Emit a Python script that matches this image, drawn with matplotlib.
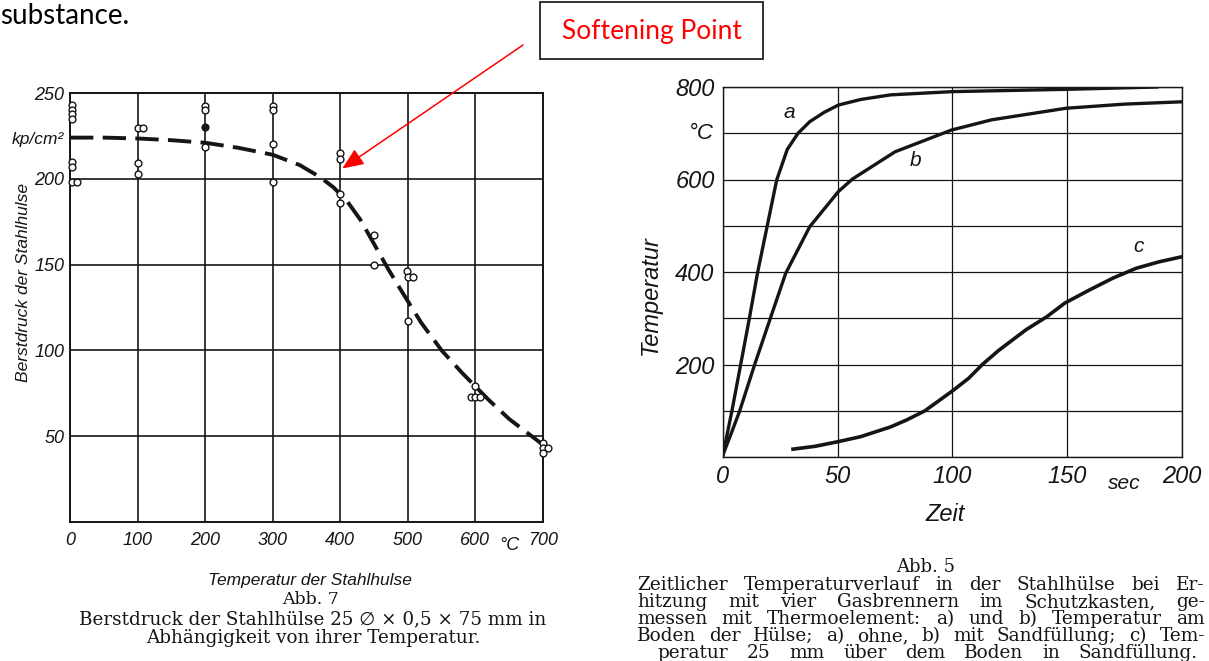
import matplotlib
matplotlib.use("Agg")
import matplotlib.pyplot as plt
from matplotlib.patches import Rectangle
from matplotlib.transforms import blended_transform_factory as btf

# ---------------- data: left chart (Abb. 7) ----------------
burst_T = [3, 3, 3, 3, 3, 3, 3, 10,
           100, 108, 100, 100,
           200, 200, 200, 300, 300, 300, 300,
           400, 400, 400, 400,
           450, 450,
           498, 500, 508, 500,
           600, 593, 600, 607,
           700, 700, 708, 700]
burst_p = [243, 240, 237.5, 235, 210, 207, 198, 198,
           229.5, 229.5, 209, 203,
           242.5, 240, 218.5, 242.5, 240, 220.5, 198,
           215, 211.5, 191, 186,
           167, 150,
           146, 143, 143, 117,
           79, 73, 73, 73,
           46, 43, 43, 40]
filled_T = [200]
filled_p = [230]

curve_T = [0, 50, 100, 150, 200, 250, 300, 340, 370, 390, 410, 430, 450,
           470, 490, 520, 550, 580, 600, 620, 650, 680, 700]
curve_p = [224, 224, 223.5, 222.5, 221, 218, 214, 208, 201, 195, 187, 176, 162,
           148, 135, 116, 100, 87, 79, 71, 60, 51, 45]

left_xticks = [0, 100, 200, 300, 400, 500, 600, 700]
left_xlabels = ["0", "100", "200", "300", "400", "500", "600", "700"]
left_yticks = [50, 100, 150, 200, 250]
left_ylabels = ["50", "100", "150", "200", "250"]

# ---------------- data: right chart (Abb. 5) ----------------
a_t = [0, 3.9, 7.7, 11.5, 15, 19.2, 23.4, 28, 32.7, 37.8, 44, 50.3, 60, 73, 100, 150, 189]
a_T = [5, 100, 200, 300, 397, 498, 599, 665, 700, 725, 745, 761, 773, 783, 790, 795, 800]
b_t = [0, 3.5, 7.3, 13.8, 20.5, 27.3, 37.8, 50.3, 56.4, 75, 99.6, 117, 149.4, 175, 200]
b_T = [5, 50, 100, 200, 298, 397, 498, 574, 601, 660, 707, 729, 754, 763, 768]
c_t = [30.5, 40, 50, 60, 73, 80, 88, 100, 107, 113, 120, 132, 141, 149, 160, 170, 180, 190, 200]
c_T = [17, 23, 33, 44, 65, 80, 100, 143, 170, 200, 230, 275, 303, 333, 362, 387, 408, 422, 433]

right_xticks = [0, 50, 100, 150, 200]
right_xlabels = ["0", "50", "100", "150", "200"]
right_yticks = [0, 200, 400, 600, 800]
right_ylabels = ["", "200", "400", "600", "800"]

W, H = 1209, 661
fig = plt.figure(figsize=(W / 100, H / 100), dpi=100)
fig.patch.set_facecolor("white")

def fx(px):
    return px / W

def fy(py):
    return 1 - py / H

INK = "#151515"
SANS = ["Liberation Sans", "DejaVu Sans"]
SERIF = ["DejaVu Serif", "DejaVu Sans"]

# ================= left chart =================
axL = fig.add_axes([fx(70), fy(522), (543 - 70) / W, (522 - 93) / H])
axL.set_xlim(0, 700)
axL.set_ylim(0, 250)
axL.set_xticks(left_xticks)
axL.set_xticklabels(left_xlabels, family=SANS, style="italic", fontsize=13, color=INK)
axL.set_yticks(left_yticks)
axL.set_yticklabels(left_ylabels, family=SANS, style="italic", fontsize=13, color=INK)
axL.tick_params(axis="x", length=0, pad=7)
axL.tick_params(axis="y", length=0, pad=4)
axL.grid(True, color=INK, lw=1.2)
for s in axL.spines.values():
    s.set_color(INK)
    s.set_linewidth(1.4)
axL.set_axisbelow(True)

axL.plot(curve_T, curve_p, color=INK, lw=2.8, dashes=(6.0, 2.4), zorder=3)
axL.scatter(burst_T, burst_p, s=24, facecolors="white", edgecolors=INK, linewidths=1.0, zorder=4, clip_on=False)
axL.scatter(filled_T, filled_p, s=24, facecolors=INK, edgecolors=INK, linewidths=1.0, zorder=4)

tL = btf(axL.transAxes, axL.transData)
axL.text(-0.012, 223, "kp/cm²", transform=tL, ha="right", va="center",
         family=SANS, style="italic", fontsize=12.5, color=INK)
tLx = btf(axL.transData, axL.transAxes)
axL.text(650, -0.035, "°C", transform=tLx, ha="center", va="top",
         family=SANS, style="italic", fontsize=13, color=INK)
axL.set_ylabel("Berstdruck der Stahlhulse", family=SANS, style="italic",
               fontsize=12.5, color=INK)
axL.yaxis.set_label_coords((31 - 70) / 473, (522 - 282) / 429)
axL.set_xlabel("Temperatur der Stahlhulse", family=SANS, style="italic",
               fontsize=12.5, color=INK)
axL.xaxis.set_label_coords((310 - 70) / 473, -(573 - 522) / 429)

# ================= right chart =================
axR = fig.add_axes([fx(723), fy(457), (1182 - 723) / W, (457 - 87) / H])
axR.set_xlim(0, 200)
axR.set_ylim(0, 800)
axR.set_xticks(right_xticks)
axR.set_xticklabels(right_xlabels, family=SANS, style="italic", fontsize=17, color=INK)
axR.set_yticks(right_yticks)
axR.set_yticklabels(right_ylabels, family=SANS, style="italic", fontsize=17, color=INK)
axR.set_yticks(range(100, 800, 200), minor=True)
axR.tick_params(which="both", length=0, pad=6)
axR.grid(True, which="both", color=INK, lw=0.9)
for s in axR.spines.values():
    s.set_color(INK)
    s.set_linewidth(1.0)
axR.set_axisbelow(True)

axR.plot(a_t, a_T, color=INK, lw=2.4)
axR.plot(b_t, b_T, color=INK, lw=2.4)
axR.plot(c_t, c_T, color=INK, lw=2.6)
axR.text(29, 745, "a", family=SANS, style="italic", fontsize=15, color=INK, ha="center", va="center")
axR.text(84, 640, "b", family=SANS, style="italic", fontsize=15, color=INK, ha="center", va="center")
axR.text(181, 455, "c", family=SANS, style="italic", fontsize=15, color=INK, ha="center", va="center")

tR = btf(axR.transAxes, axR.transData)
axR.text(-0.02, 700, "°C", transform=tR, ha="right", va="center",
         family=SANS, style="italic", fontsize=16, color=INK)
tRx = btf(axR.transData, axR.transAxes)
axR.text(175, -0.045, "sec", transform=tRx, ha="center", va="top",
         family=SANS, style="italic", fontsize=15, color=INK)
axR.set_ylabel("Temperatur", family=SANS, style="italic", fontsize=17, color=INK)
axR.yaxis.set_label_coords((662 - 723) / 459, (457 - 295) / 370)
axR.set_xlabel("Zeit", family=SANS, style="italic", fontsize=17, color=INK)
axR.xaxis.set_label_coords((945 - 723) / 459, -(503 - 457) / 370)

# ================= captions =================
fig.text(fx(311), fy(599), "Abb. 7", ha="center", va="center", family=SERIF, fontsize=12.5, color=INK)
fig.text(fx(313), fy(619), "Berstdruck der Stahlhülse 25 \u2205 \u00d7 0,5 \u00d7 75 mm in",
         ha="center", va="center", family=SERIF, fontsize=13.2, color=INK)
fig.text(fx(313), fy(638), "Abhängigkeit von ihrer Temperatur.",
         ha="center", va="center", family=SERIF, fontsize=13.2, color=INK)

fig.text(fx(926), fy(567), "Abb. 5", ha="center", va="center", family=SERIF, fontsize=13, color=INK)
cap_lines = [
    "Zeitlicher Temperaturverlauf in der Stahlhülse bei Er-",
    "hitzung mit vier Gasbrennern im Schutzkasten, ge-",
    "messen mit Thermoelement: a) und b) Temperatur am",
    "Boden der Hülse; a) ohne, b) mit Sandfüllung; c) Tem-",
    "peratur 25 mm über dem Boden in Sandfüllung.",
]
cap_x0 = [637, 637, 637, 637, 657]
cap_x1 = [1205, 1205, 1205, 1205, 1198]
renderer = fig.canvas.get_renderer()
for i, line in enumerate(cap_lines):
    yb = fy(590 + 17 * i)
    words = line.split()
    objs = [fig.text(0, yb, w, ha="left", va="baseline", family=SERIF,
                     fontsize=13.3, color=INK) for w in words]
    widths = [o.get_window_extent(renderer).width for o in objs]
    gap = (cap_x1[i] - cap_x0[i] - sum(widths)) / (len(words) - 1)
    xpos = cap_x0[i]
    for o, wd in zip(objs, widths):
        o.set_x(fx(xpos))
        xpos += wd + gap

# ================= annotation =================
fig.text(0.0, fy(24), "substance.", ha="left", va="baseline",
         family=["Lato", "DejaVu Sans"], fontsize=20, color="black")
fig.add_artist(Rectangle((fx(540), fy(59)), (763 - 540) / W, (59 - 2) / H,
                         transform=fig.transFigure, fill=False, ec="#222222", lw=1.3))
fig.text(fx(651.5), fy(31), "Softening Point", ha="center", va="center",
         family=["Lato", "DejaVu Sans"], fontsize=19, color="#ff0000")
axL.annotate("", xy=(403, 206), xycoords="data",
             xytext=(fx(523), fy(45)), textcoords="figure fraction",
             arrowprops=dict(arrowstyle="-|>,head_length=1.3,head_width=0.55",
                             color="#ff0000", lw=1.1, shrinkA=0, shrinkB=0),
             annotation_clip=False)

fig.savefig("out.png", dpi=100, facecolor="white")
